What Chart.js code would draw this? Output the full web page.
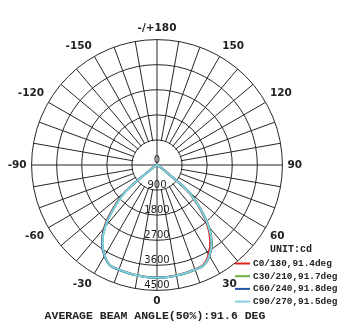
<!DOCTYPE html>
<html>
<head>
<meta charset="utf-8">
<script src="https://cdn.jsdelivr.net/npm/chart.js@4.4.1/dist/chart.umd.min.js"></script>
<style>
  html, body { margin: 0; padding: 0; background: #fff; }
  #wrap { width: 356px; height: 334px; }
</style>
</head>
<body>
<div id="wrap"><canvas id="polarChart" width="356" height="334"></canvas></div>
<script>
// gamma angles of the measurement (deg), 0 = straight down, 90 = right side
var gamma = [-90,-85,-80,-75,-70,-65,-60,-55,-50,-45,-40,-35,-30,-25,-20,-15,-10,-5,0,
             5,10,15,20,25,30,35,40,45,50,55,60,65,70,75,80,85,90];

// luminous intensity in cd, one array per C-plane
var c0   = [0,0,0,0,0,0,50,260,1500,2260,2960,3440,3760,3970,3990,4000,4020,4030,4030,
            4030,4020,4000,3980,3950,3700,3330,2810,2110,1380,180,30,0,0,0,0,0,0];
var c30  = [0,0,0,0,0,0,40,220,1440,2180,2900,3420,3760,3980,4000,4020,4030,4040,4050,
            4040,4030,4020,4000,3980,3770,3440,2910,2190,1440,210,40,0,0,0,0,0,0];
var c60  = [0,0,0,0,0,0,50,240,1460,2200,2920,3440,3770,3980,4000,4010,4030,4040,4040,
            4040,4030,4010,3990,3970,3760,3420,2890,2180,1430,210,40,0,0,0,0,0,0];
var c90  = [0,0,0,0,0,0,40,200,1420,2160,2880,3410,3750,3970,3990,4010,4030,4040,4040,
            4040,4030,4010,3990,3970,3750,3410,2880,2160,1420,200,40,0,0,0,0,0,0];

var seriesNames = ["C0/180,91.4deg", "C30/210,91.7deg", "C60/240,91.8deg", "C90/270,91.5deg"];
var seriesColors = ["#e2231a", "#6cb33f", "#2356a4", "#7fd0dc"];

var intensityTicks = [0, 900, 1800, 2700, 3600, 4500];
var angleTicks = [180, 150, 120, 90, 60, 30, 0, -30, -60, -90, -120, -150];

var gridColor = '#262626';

// categories round the whole circle, clockwise from the top (180)
var circleAngles = [];
for (var a = 180; a > -180; a -= 5) circleAngles.push(a);

function onCircle(values) {
    return circleAngles.map(function (ang) {
        var i = gamma.indexOf(ang);
        return i < 0 ? 0 : values[i];
    });
}

// spokes only start at the first ring, the axes go through the middle
var innerDisk = {
    id: 'innerDisk',
    beforeDatasetsDraw: function (chart) {
        var r = chart.scales.r, ctx = chart.ctx;
        var d = r.getDistanceFromCenterForValue(intensityTicks[1]);
        ctx.save();
        ctx.fillStyle = '#fff';
        ctx.beginPath();
        ctx.arc(r.xCenter, r.yCenter, d - 0.8, 0, Math.PI * 2);
        ctx.fill();
        ctx.strokeStyle = gridColor;
        ctx.lineWidth = 1;
        ctx.beginPath();
        ctx.moveTo(r.xCenter - d, r.yCenter); ctx.lineTo(r.xCenter + d, r.yCenter);
        ctx.moveTo(r.xCenter, r.yCenter - d); ctx.lineTo(r.xCenter, r.yCenter + d);
        ctx.stroke();
        ctx.restore();
    }
};

// intensity labels run down the 0 deg axis
var tickText = {
    id: 'tickText',
    afterDatasetsDraw: function (chart) {
        var r = chart.scales.r, ctx = chart.ctx;
        ctx.save();
        ctx.font = '10px "DejaVu Sans"';
        ctx.fillStyle = '#222';
        ctx.textAlign = 'center';
        ctx.textBaseline = 'middle';
        intensityTicks.forEach(function (v) {
            ctx.fillText(String(v), r.xCenter, r.yCenter + r.getDistanceFromCenterForValue(v) - 5);
        });
        ctx.restore();
    }
};

var unitLegend = {
    id: 'unitLegend',
    afterDraw: function (chart) {
        var ctx = chart.ctx;
        ctx.save();
        ctx.fillStyle = '#222';
        ctx.font = 'bold 10px "Liberation Mono"';
        ctx.textAlign = 'center';
        ctx.textBaseline = 'middle';
        ctx.fillText('UNIT:cd', 291, 249);
        ctx.textAlign = 'left';
        ctx.font = 'bold 9.4px "Liberation Mono"';
        chart.data.datasets.forEach(function (ds, i) {
            var y = 263.5 + i * 12.7;
            ctx.strokeStyle = ds.borderColor;
            ctx.lineWidth = 2;
            ctx.beginPath();
            ctx.moveTo(235, y); ctx.lineTo(250, y);
            ctx.stroke();
            ctx.fillText(ds.label, 253, y);
        });
        ctx.restore();
    }
};

var curves = [c0, c30, c60, c90];
var datasets = curves.map(function (vals, i) {
    return {
        label: seriesNames[i],
        data: onCircle(vals),
        borderColor: seriesColors[i],
        backgroundColor: seriesColors[i],
        borderWidth: 2,
        pointRadius: 0,
        fill: false,
        tension: 0.3,
        order: 4 - i
    };
});

new Chart(document.getElementById('polarChart'), {
    type: 'radar',
    data: { labels: circleAngles, datasets: datasets },
    plugins: [innerDisk, tickText, unitLegend],
    options: {
        responsive: false,
        animation: false,
        layout: { padding: { top: 22, right: 46, bottom: 0, left: 0 } },
        plugins: {
            legend: { display: false },
            tooltip: { enabled: false },
            title: {
                display: true,
                position: 'bottom',
                text: 'AVERAGE BEAM ANGLE(50%):91.6 DEG',
                color: '#222',
                font: { family: 'Liberation Mono', size: 11.5, weight: 'bold' },
                padding: { top: 0, bottom: 11 }
            }
        },
        scales: {
            r: {
                min: 0,
                max: 4500,
                startAngle: 0,
                ticks: { stepSize: 900, display: false },
                grid: { circular: true, color: gridColor, lineWidth: 1 },
                angleLines: {
                    color: gridColor,
                    lineWidth: function (ctx) {
                        return circleAngles[ctx.index] % 10 === 0 ? 1 : 0;
                    }
                },
                pointLabels: {
                    padding: 5,
                    color: '#222',
                    font: { family: 'DejaVu Sans', size: 10.5, weight: 'bold' },
                    callback: function (label) {
                        if (angleTicks.indexOf(label) < 0) return [];
                        return label === 180 ? '-/+180' : String(label);
                    }
                }
            }
        }
    }
});
</script>
</body>
</html>
